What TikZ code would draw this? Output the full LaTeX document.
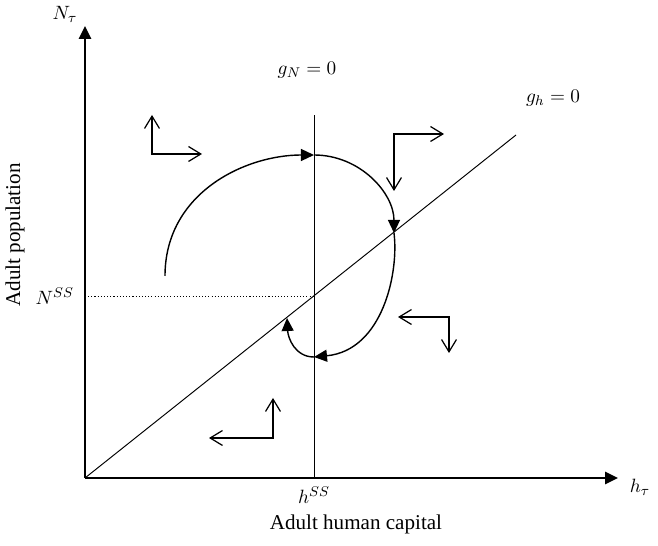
\documentclass[tikz,border=0pt]{standalone}
\usepackage{amsmath, amssymb}
\usepackage{fontspec}
\setmainfont{Liberation Serif}
\usepackage{tikz}
\usetikzlibrary{positioning, arrows.meta, calc}

\begin{document}
\begin{tikzpicture}[scale=1.0,
  every node/.style={font=\fontsize{11}{13}\selectfont},
  title/.style={font=\fontsize{12}{14}\selectfont},
  axis/.style={line width=0.95pt, -{Triangle[length=7.4pt,width=7pt]}},
  locus/.style={line width=0.55pt},
  path/.style={line width=0.8pt, -{Triangle[length=7.4pt,width=6.8pt]}},
  phase/.style={line width=0.7pt, {Straight Barb[length=7pt,width=8.5pt]}-{Straight Barb[length=7pt,width=8.5pt]}}]
  \useasboundingbox (-1.7,-1.36) rectangle (11.46,9.56);

  % Axes
  \coordinate (O) at (0,0);
  \draw[axis] (O) -- (10.66,0) coordinate (xtip);
  \draw[axis] (O) -- (0,9.04) coordinate (ytip);
  \node (hlab) at (11.1,-0.18) {$h_\tau$};
  \node (Nlab) at (-0.4,9.28) {$N_\tau$};

  % Loci
  \coordinate (SS) at (4.58,3.64);
  \draw[locus] (4.58,0) node[below=0.05cm] (hss) {$h^{SS}$} -- (4.58,7.26) coordinate (gNtop);
  \node (gN) at (4.44,8.16) {$g_N = 0$};
  \draw[locus] (O) -- (8.62,6.86) coordinate (ghtop);
  \node (gh) at (9.36,7.6) {$g_h = 0$};
  \draw[line width=0.4pt, dash pattern=on 0.6pt off 1.2pt] (0,3.64) node[left=0.1cm] (Nss) {$N^{SS}$} -- (SS);

  % Trajectory
  \coordinate (start) at (1.6,4.04);
  \coordinate (top) at (4.58,6.46);
  \coordinate (cross) at (6.18,4.9);
  \coordinate (bottom) at (4.58,2.42);
  \coordinate (back) at (4.04,3.2);
  \draw[path] (start) .. controls (1.6,5.7) and (3.2,6.46) .. (top);
  \draw[path] (top) .. controls (5.5,6.46) and (6.18,5.7) .. (cross);
  \draw[path] (cross) .. controls (6.28,4.1) and (5.95,2.55) .. (bottom);
  \draw[path] (bottom) .. controls (4.2,2.42) and (4.06,2.8) .. (back);

  % Phase arrows
  \foreach \cx/\cy/\dx/\dy in {1.34/6.48/1/0.78, 6.18/6.88/1/-1.14, 7.28/3.22/-1.02/-0.72, 3.76/0.8/-1.28/0.8}
    \draw[phase] (\cx,\cy+\dy) -- (\cx,\cy) -- (\cx+\dx,\cy);

  % Axis titles
  \node[title] (xtitle) at (5.42,-0.92) {Adult human capital};
  \node[title, rotate=90] (ytitle) at (-1.4,4.86) {Adult population};
\end{tikzpicture}
\end{document}
